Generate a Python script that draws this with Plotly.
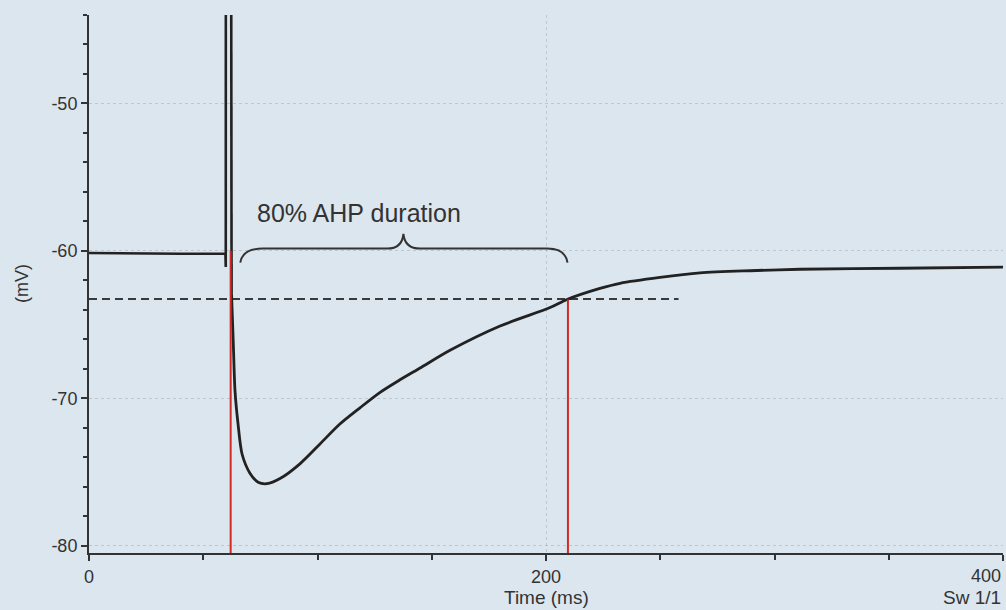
import plotly.graph_objects as go

# ---- data ----
# baseline + spike (straight segments)
spike_t = [0, 20, 40, 59.7, 59.85, 60.0, 61.7]
spike_v = [-60.15, -60.2, -60.2, -60.2, -61.1, 30.0, 30.0]
# repolarisation + afterhyperpolarisation (smooth)
ahp_t = [61.7, 62.4, 63.2, 63.9, 65.2, 67.0, 70.5, 74.0, 77.9, 83.6, 92.3, 101.1,
         109.8, 118.6, 127.4, 136.1, 144.9, 158.0, 179.9, 201.8, 209.2, 223.6,
         232.4, 249.9, 267.4, 289.3, 311.2, 354.9, 400.0]
ahp_v = [30.0, -63.0, -66.5, -69.5, -71.7, -73.8, -75.1, -75.7, -75.8, -75.45,
         -74.45, -73.1, -71.75, -70.65, -69.6, -68.75, -67.95, -66.75, -65.1,
         -63.85, -63.3, -62.55, -62.2, -61.8, -61.5, -61.35, -61.25, -61.18, -61.1]

level_80 = -63.27           # 80% recovery level (mV)
level_end_t = 258.0         # dashed line extent (ms)
marker_t = [62.0, 209.6]    # red cursor times (ms)
marker_top = [-60.0, -63.3] # red cursor upper ends (mV)
y_floor = -80.5

x_major = [0, 200, 400]
x_major_text = ["0", "200", ""]
y_major = [-80, -70, -60, -50]
y_major_text = ["-80", "-70", "-60", "-50"]

BG = "rgb(220,230,239)"
INK = "#333333"
FONT = "Arial, Liberation Sans, sans-serif"

fig = go.Figure()

# dashed 80% level
fig.add_trace(go.Scatter(x=[0, level_end_t], y=[level_80, level_80], mode="lines",
                         line=dict(color="#3a3a3a", width=2, dash="8px,5px"),
                         hoverinfo="skip", showlegend=False))

# voltage trace
fig.add_trace(go.Scatter(x=spike_t, y=spike_v, mode="lines",
                         line=dict(color="#222222", width=2.6),
                         showlegend=False))
fig.add_trace(go.Scatter(x=ahp_t[1:], y=ahp_v[1:], mode="lines",
                         line=dict(color="#222222", width=2.8, shape="spline",
                                   smoothing=0.8),
                         showlegend=False))
fig.add_trace(go.Scatter(x=ahp_t[:2], y=ahp_v[:2], mode="lines",
                         line=dict(color="#222222", width=2.6),
                         showlegend=False))

# red cursors
for tm, top in zip(marker_t, marker_top):
    fig.add_trace(go.Scatter(x=[tm, tm], y=[y_floor, top], mode="lines",
                             line=dict(color="#d42a26", width=2),
                             hoverinfo="skip", showlegend=False))

# curly brace
brace = ("M66.2,-60.8 Q67.2,-59.85 76,-59.85 L130.5,-59.85 "
         "Q137.0,-59.85 137.6,-58.85 Q138.2,-59.85 145,-59.85 "
         "L200.5,-59.85 Q208.5,-59.85 209.4,-60.8")
fig.add_shape(type="path", path=brace, xref="x", yref="y",
              line=dict(color=INK, width=2))

fig.add_annotation(x=118.3, y=-57.4, xref="x", yref="y", text="80% AHP duration",
                   showarrow=False, font=dict(family=FONT, size=25, color=INK),
                   xanchor="center", yanchor="middle")

# axis text extras
fig.add_annotation(x=400, y=0, xref="x", yref="paper", text="400", showarrow=False,
                   xanchor="right", yanchor="middle", yshift=-23,
                   font=dict(family=FONT, size=18, color=INK))
fig.add_annotation(x=200, y=0, xref="x", yref="paper", text="Time (ms)", showarrow=False,
                   xanchor="center", yanchor="middle", yshift=-44,
                   font=dict(family=FONT, size=19, color=INK))
fig.add_annotation(x=400, y=0, xref="x", yref="paper", text="Sw 1/1", showarrow=False,
                   xanchor="right", yanchor="middle", yshift=-44,
                   font=dict(family=FONT, size=19, color=INK))
fig.add_annotation(x=0, y=0.5, xref="paper", yref="paper", text="(mV)", showarrow=False,
                   textangle=-90, xanchor="center", yanchor="middle", xshift=-67,
                   font=dict(family=FONT, size=18, color=INK))

grid = "rgba(150,160,172,0.45)"
fig.update_layout(
    width=1006, height=610,
    margin=dict(l=89, r=3, t=15, b=57),
    paper_bgcolor=BG, plot_bgcolor=BG,
    showlegend=False,
    xaxis=dict(range=[0, 400], tickvals=x_major, ticktext=x_major_text,
               showline=True, linecolor=INK, linewidth=2, mirror=False,
               ticks="outside", ticklen=6, tickwidth=2, tickcolor=INK,
               showgrid=True, gridcolor=grid, gridwidth=1, griddash="dot",
               zeroline=False,
               minor=dict(dtick=50, ticks="outside", ticklen=5, tickwidth=1.5,
                          tickcolor=INK, showgrid=False),
               tickfont=dict(family=FONT, size=18, color=INK)),
    yaxis=dict(range=[y_floor, -44.0], tickvals=y_major, ticktext=y_major_text,
               showline=True, linecolor=INK, linewidth=2, mirror=False,
               ticks="outside", ticklen=6, tickwidth=2, tickcolor=INK,
               showgrid=True, gridcolor=grid, gridwidth=1, griddash="dot",
               zeroline=False,
               minor=dict(dtick=2, ticks="outside", ticklen=4, tickwidth=1.5,
                          tickcolor=INK, showgrid=False),
               tickfont=dict(family=FONT, size=18, color=INK)),
)

fig.write_html("out.html")
